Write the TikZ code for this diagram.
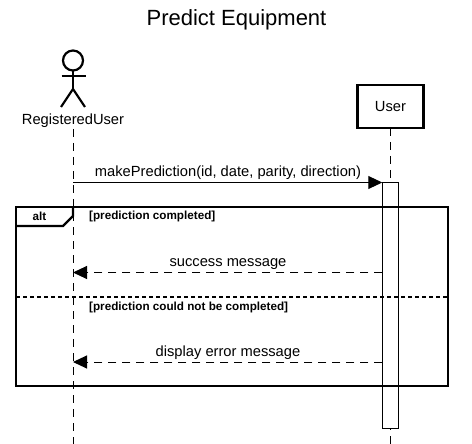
\documentclass[tikz,border=0pt]{standalone}
\usepackage{fontspec}
\setmainfont{Liberation Sans}
\usetikzlibrary{arrows.meta,positioning,calc}

\tikzset{
    lifeline/.style={line width=1pt, dash pattern=on 8pt off 6pt},
    message/.style={line width=1pt, -{Triangle[length=14pt,width=13pt]}},
    reply/.style={message, dash pattern=on 8pt off 6pt},
    guard/.style={font=\bfseries\fontsize{11.7}{13}\selectfont, inner sep=0pt, anchor=west},
    msglabel/.style={font=\fontsize{14.7}{17}\selectfont, inner sep=0pt, anchor=base}
}

\begin{document}
\begin{tikzpicture}[x=1pt, y=-1pt]
    \useasboundingbox (0,0) rectangle (472,444);

    % title
    \node[font=\fontsize{22}{26}\selectfont, inner sep=0pt] (title) at (236.5,19.5) {Predict Equipment};

    % the actor
    \coordinate (neck) at (73,71);
    \coordinate (hip) at (73,89);
    \coordinate (leftFoot) at (61,107);
    \coordinate (rightFoot) at (85,107);
    \coordinate (leftHand) at (61.5,76);
    \coordinate (rightHand) at (85.5,76);
    \draw[line width=2.2pt] (73,60.5) circle (10pt);
    \draw[line width=2.2pt] (neck) -- (hip);
    \draw[line width=2.2pt] (leftHand) -- (rightHand);
    \draw[line width=2.2pt] (leftFoot) -- (hip) -- (rightFoot);
    \node[font=\fontsize{14.7}{17}\selectfont, inner sep=0pt] (registeredUser) at (73,120.5) {RegisteredUser};

    % the participant
    \node[draw, line width=2.2pt, outer sep=0pt, minimum width=66pt, minimum height=43pt, inner sep=0pt,
          font=\fontsize{14.7}{17}\selectfont] (user) at (390.5,106.5) {User};

    % lifelines
    \coordinate (actorTop) at (73,129);
    \coordinate (actorEnd) at (73,444);
    \coordinate (userEnd) at (390.5,444);
    \draw[lifeline] (actorTop) -- (actorEnd);
    \draw[lifeline] (user.south) -- (userEnd);

    % activation bar
    \node[draw, fill=white, line width=1pt, outer sep=0pt, minimum width=16.5pt, minimum height=245.5pt, inner sep=0pt]
        (activation) at (390.5,305.25) {};

    % messages
    \coordinate (callStart) at (73,182.5);
    \coordinate (successEnd) at (73,272.5);
    \coordinate (errorEnd) at (73,362);
    \coordinate (successStart) at (activation.west |- successEnd);
    \coordinate (errorStart) at (activation.west |- errorEnd);

    \draw[message] (callStart) -- (activation.north west);
    \draw[reply] (successStart) -- (successEnd);
    \draw[reply] (errorStart) -- (errorEnd);

    \node[msglabel] (callLabel) at (228,176) {makePrediction(id, date, parity, direction)};
    \node[msglabel] (successLabel) at (228,266) {success message};
    \node[msglabel] (errorLabel) at (228,356) {display error message};

    % the alt frame
    \draw[line width=2.2pt] (16,207) rectangle (448,386);
    \draw[line width=2.2pt] (16,226) -- (63,226) -- (73,216) -- (73,207);
    \draw[line width=2.2pt, dash pattern=on 4pt off 3pt] (16,297) -- (448,297);

    \node[font=\bfseries\fontsize{11.7}{13}\selectfont, inner sep=0pt] (altLabel) at (39.5,216.5) {alt};
    \node[guard] (guardOne) at (89,216.5) {[prediction completed]};
    \node[guard] (guardTwo) at (89,307) {[prediction could not be completed]};
\end{tikzpicture}
\end{document}
